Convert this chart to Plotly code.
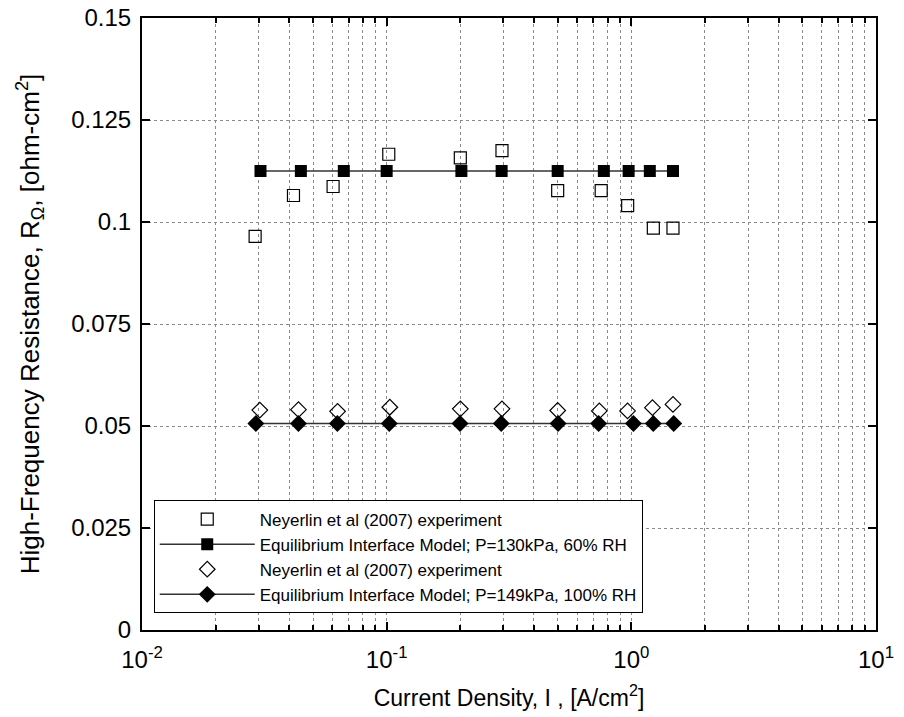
import plotly.graph_objects as go

# Data
exp1_x = [0.029, 0.0416, 0.0604, 0.102, 0.2, 0.296, 0.5, 0.753, 0.966, 1.23, 1.48]
exp1_y = [0.0965, 0.1065, 0.1087, 0.1166, 0.1157, 0.1175, 0.1077, 0.1077, 0.1040, 0.0985, 0.0985]

model1_x = [0.0305, 0.0446, 0.0668, 0.1, 0.202, 0.295, 0.5, 0.772, 0.975, 1.19, 1.48]
model1_y = [0.1125] * 11

exp2_x = [0.0303, 0.0436, 0.063, 0.103, 0.2, 0.296, 0.5, 0.74, 0.965, 1.22, 1.48]
exp2_y = [0.0539, 0.0540, 0.0536, 0.0546, 0.0542, 0.0542, 0.0538, 0.0537, 0.0537, 0.0545, 0.0553]

model2_x = [0.0292, 0.0436, 0.0629, 0.1025, 0.1995, 0.294, 0.502, 0.735, 1.02, 1.23, 1.49]
model2_y = [0.0506] * 11

x_tickvals = [0.01, 0.1, 1, 10]
x_ticktext = ["10<sup>-2</sup>", "10<sup>-1</sup>", "10<sup>0</sup>", "10<sup>1</sup>"]
y_tickvals = [0, 0.025, 0.05, 0.075, 0.1, 0.125, 0.15]
y_ticktext = ["0", "0.025", "0.05", "0.075", "0.1", "0.125", "0.15"]

FONT = "Liberation Sans, Arial, sans-serif"

fig = go.Figure()
fig.add_trace(go.Scatter(
    x=exp1_x, y=exp1_y, mode="markers", legendgroup="a",
    name="Neyerlin et al (2007) experiment",
    marker=dict(symbol="square-open", size=12, color="black", line=dict(width=1.2)),
))
fig.add_trace(go.Scatter(
    x=model1_x, y=model1_y, mode="lines+markers", legendgroup="b",
    name="Equilibrium Interface Model; P=130kPa, 60% RH",
    line=dict(color="#333333", width=1.5),
    marker=dict(symbol="square", size=12, color="black"),
))
fig.add_trace(go.Scatter(
    x=exp2_x, y=exp2_y, mode="markers", legendgroup="c",
    name="Neyerlin et al (2007) experiment",
    marker=dict(symbol="diamond-open", size=12, color="black", line=dict(width=1.2)),
))
fig.add_trace(go.Scatter(
    x=model2_x, y=model2_y, mode="lines+markers", legendgroup="d",
    name="Equilibrium Interface Model; P=149kPa, 100% RH",
    line=dict(color="#333333", width=1.5),
    marker=dict(symbol="diamond", size=13, color="black"),
))

axis_common = dict(
    showline=True, linecolor="black", linewidth=2, mirror="ticks",
    ticks="inside", tickcolor="black", tickwidth=1.5, ticklen=8,
    showgrid=True, gridcolor="#8a8a8a", griddash="dot", gridwidth=1,
    zeroline=False, automargin=False, ticklabeloverflow="allow",
    tickfont=dict(family=FONT, size=24, color="black"),
)

fig.update_xaxes(
    type="log", range=[-2, 1],
    tickmode="array", tickvals=x_tickvals, ticktext=x_ticktext,
    ticklabelstandoff=7,
    minor=dict(ticks="inside", ticklen=5, tickcolor="black", showgrid=True,
               gridcolor="#8a8a8a", griddash="dot", gridwidth=1, dtick="D1"),
    title=dict(text="Current Density, I , [A/cm<sup>2</sup>]",
               font=dict(family=FONT, size=23, color="black"), standoff=18),
    **axis_common,
)
fig.update_yaxes(
    range=[0, 0.15],
    tickmode="array", tickvals=y_tickvals, ticktext=y_ticktext,
    ticklabelstandoff=4,
    title=dict(text="High-Frequency Resistance, R<sub>Ω</sub>, [ohm-cm<sup>2</sup>]",
               font=dict(family=FONT, size=26, color="black"), standoff=24),
    **axis_common,
)

fig.update_layout(
    width=904, height=717,
    margin=dict(l=134, r=36, t=10, b=95),
    paper_bgcolor="white", plot_bgcolor="white",
    font=dict(family=FONT, color="black"),
    showlegend=True,
    legend=dict(
        x=0.016, y=0.027, xanchor="left", yanchor="bottom",
        bgcolor="white", bordercolor="black", borderwidth=1,
        font=dict(family=FONT, size=17, color="black"),
        traceorder="grouped", tracegroupgap=0, itemwidth=95,
    ),
)

fig.write_html("out.html")
